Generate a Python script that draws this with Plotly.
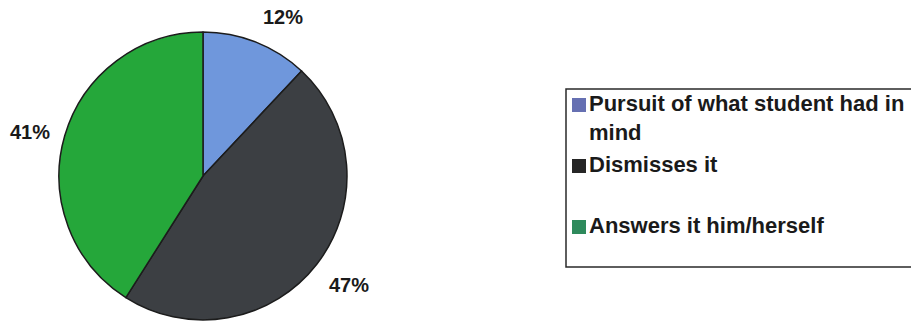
import math
import plotly.graph_objects as go

# Teacher responses to a student's idea
categories = ["Pursuit of what student had in<br>mind", "Dismisses it", "Answers it him/herself"]
shares = [12, 47, 41]
slice_colors = ["#6f97dc", "#3c3f43", "#25a73a"]
key_colors = ["#6670b2", "#262626", "#2e8a5c"]

W, H = 911, 321
FONT = "Liberation Sans, Arial, sans-serif"

# pie placement in pixels
cx, cy, R = 203, 176, 144

fig = go.Figure(
    go.Pie(
        labels=categories,
        values=shares,
        sort=False,
        direction="clockwise",
        rotation=0,
        textinfo="none",
        hoverinfo="label+percent",
        showlegend=False,
        marker=dict(colors=slice_colors, line=dict(color="#1c1c1c", width=1.5)),
        domain=dict(x=[(cx - R) / W, (cx + R) / W], y=[(H - cy - R) / H, (H - cy + R) / H]),
    )
)

annotations = []
# percentage labels outside each slice, at its mid angle
total = sum(shares)
acc = 0
gap = 13
for v in shares:
    mid = (acc + v / 2) / total * 2 * math.pi
    acc += v
    sx, cyy = math.sin(mid), math.cos(mid)
    px = cx + (R + gap) * sx
    py = cy - (R + gap) * cyy
    xa = "left" if sx > 0 else "right"
    ya = "middle" if abs(cyy) < 0.5 else ("bottom" if cyy > 0 else "top")
    annotations.append(dict(
        x=px / W, y=1 - py / H, xref="paper", yref="paper",
        text=f"<b>{round(v / total * 100)}%</b>", showarrow=False,
        xanchor=xa, yanchor=ya, font=dict(family=FONT, size=20, color="#1a1a1a"),
    ))

# legend box with swatches
shapes = [dict(type="rect", xref="paper", yref="paper",
               x0=566 / W, x1=918 / W, y0=1 - 267 / H, y1=1 - 89 / H,
               line=dict(color="#2a2a2a", width=1.5), fillcolor="rgba(0,0,0,0)")]
row_y = [105, 166, 227]
for name, col, ry in zip(categories, key_colors, row_y):
    shapes.append(dict(type="rect", xref="paper", yref="paper",
                       x0=572 / W, x1=586 / W, y0=1 - (ry + 7) / H, y1=1 - (ry - 7) / H,
                       line=dict(width=0), fillcolor=col))
    annotations.append(dict(
        x=587 / W, y=1 - (ry - 16) / H, xref="paper", yref="paper",
        text=f"<b>{name}</b>", showarrow=False, align="left",
        xanchor="left", yanchor="top", font=dict(family=FONT, size=22, color="#1a1a1a"),
    ))

fig.update_layout(
    width=W, height=H,
    margin=dict(l=0, r=0, t=0, b=0),
    paper_bgcolor="white", plot_bgcolor="white",
    shapes=shapes, annotations=annotations,
)

fig.write_html("out.html")
